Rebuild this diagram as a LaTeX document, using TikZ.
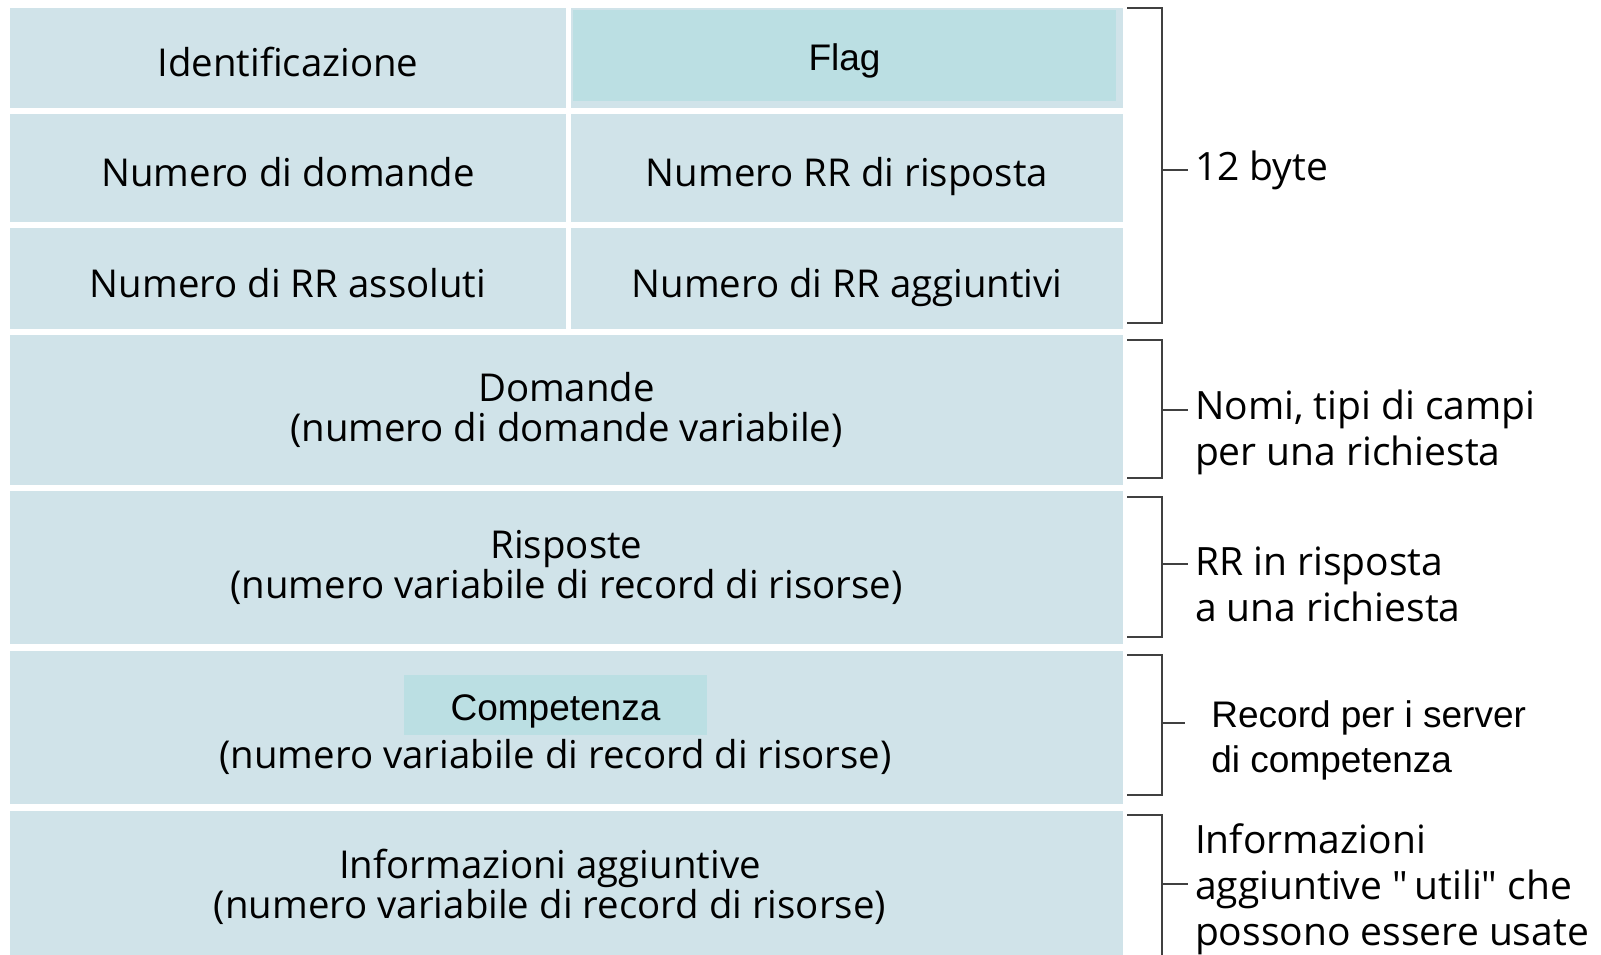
\documentclass[tikz,border=0pt]{standalone}
\usepackage{fontspec}
\setmainfont{Open Sans}
\newfontfamily\arialfont{Liberation Sans}
\newcommand{\dquote}{{\addfontfeatures{Ligatures=TeXOff}\symbol{34}}}
\usepackage{tikz}
\usetikzlibrary{positioning}
\definecolor{fieldbg}{RGB}{208,227,233}
\definecolor{flagbg}{RGB}{187,223,227}

\begin{document}
\begin{tikzpicture}[x=0.5pt, y=-0.5pt, align=center,
    field/.style={fill=fieldbg, inner sep=0pt, font=\fontsize{19.2}{20}\selectfont},
    cell/.style={field, text height=19pt, text depth=0.5pt},
    hilite/.style={fill=flagbg, inner sep=0pt, text height=15pt, text depth=0pt, font=\arialfont\fontsize{18.5}{20}\selectfont},
    note/.style={anchor=west, align=left, font=\fontsize{19.5}{23}\selectfont},
    brk/.style={draw=black!75, line width=0.9pt}]
    \useasboundingbox (0,0) rectangle (1601,954);
    \clip (0,0) rectangle (1601,954);

    % 12 byte header
    \node [cell, minimum width=278pt, minimum height=50pt] (ident) at (288,58) {Identificazione};
    \node [cell, minimum width=276pt, minimum height=50pt] (flagcell) at (847,58) {};
    \node [hilite, minimum width=271.5pt, minimum height=45.5pt] (flag) at (844.5,55.5) {Flag};
    \node [cell, minimum width=278pt, minimum height=54pt] (nquest) at (288,168) {Numero di domande};
    \node [cell, minimum width=276pt, minimum height=54pt] (nansw) at (847,168) {Numero RR di risposta};
    \node [cell, minimum width=278pt, minimum height=50.5pt] (nauth) at (288,278.5) {Numero di RR assoluti};
    \node [cell, minimum width=276pt, minimum height=50.5pt] (naddl) at (847,278.5) {Numero di RR aggiuntivi};

    % variable sections
    \node [field, minimum width=556.5pt, minimum height=75pt] (quest) at (566.5,410) {Domande\\(numero di domande variabile)};
    \node [field, minimum width=556.5pt, minimum height=76.5pt] (answ) at (566.5,567.5) {Risposte\\(numero variabile di record di risorse)};
    \node [field, minimum width=556.5pt, minimum height=76.5pt] (auth) at (566.5,727.5) {};
    \node [hilite, minimum width=151.5pt, minimum height=30pt] (comp) at (555.5,705) {Competenza};
    \node [field, fill=none, below=2pt of comp] (comptxt) {(numero variabile di record di risorse)};
    \node [field, minimum width=556.5pt, minimum height=80pt] (addl) at (566.5,891) {};
    \node [field, fill=none] (addltxt) at (550,887) {Informazioni aggiuntive\\(numero variabile di record di risorse)};

    % brackets
    \foreach \ya/\yb in {8/323, 340/478, 497/637, 655/795, 815/990}
        \draw [brk] (1127,\ya) -| (1162,\yb) -- (1127,\yb);

    \node [note] (l1) at (1188,170) {12 byte};
    \node [note] (l2) at (1188,432) {Nomi, tipi di campi\\per una richiesta};
    \node [note] (l3) at (1188,584) {RR in risposta\\a una richiesta};
    \node [note, inner xsep=13pt, font=\arialfont\fontsize{18.5}{22.5}\selectfont] (l4) at (1185,740) {Record per i server\\di competenza};
    \node [note] (l5) at (1188,889) {Informazioni\\aggiuntive \dquote\,utili\dquote{} che\\possono essere usate};

    \foreach \y/\l in {170/l1, 410/l2, 564/l3, 723/l4, 884/l5} {
        \coordinate (k\l) at (1162,\y);
        \draw [brk] (k\l) -- (k\l -| \l.west);
    }
\end{tikzpicture}
\end{document}
